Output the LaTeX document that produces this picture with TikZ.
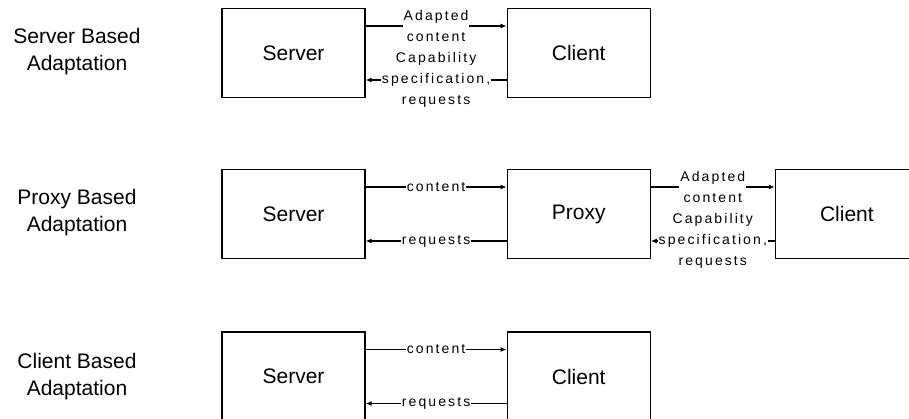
\documentclass[tikz,border=0pt]{standalone}
\usepackage{fontspec}
\setmainfont{Liberation Sans}
\usetikzlibrary{positioning, arrows.meta}

\begin{document}
\begin{tikzpicture}[x=1pt, y=-1pt, line width=1.2pt, >={Latex[length=6pt,width=5pt]},
                    box/.style={draw, minimum width=143pt, minimum height=89pt,
                                font=\fontsize{21}{24}\selectfont},
                    side/.style={align=center, font=\fontsize{21}{27}\selectfont},
                    msg/.style={fill=white, inner sep=1pt, align=center,
                                font=\fontsize{14}{21}\selectfont\addfontfeatures{LetterSpace=15}}]
\clip (0,0) rectangle (909,419);
% server based
\node[side] (tA) at (77,52) {Server Based\\Adaptation};
\node[box] (srvA) at (293.5,53) {Server};
\node[box, right=141pt of srvA] (cliA) {Client};
\draw[->] ([yshift=27pt]srvA.east) -- node[msg] {Adapted\\content} ([yshift=27pt]cliA.west);
\draw[->] ([yshift=-27pt]cliA.west) -- node[msg] {Capability\\specification,\\requests} ([yshift=-27pt]srvA.east);
% proxy based
\node[side] (tB) at (77,213) {Proxy Based\\Adaptation};
\node[box] (srvB) at (293.5,214) {Server};
\node[box, right=141pt of srvB] (prxB) {Proxy};
\node[box, right=124pt of prxB] (cliB) {Client};
\draw[->] ([yshift=27pt]srvB.east) -- node[msg] {content} ([yshift=27pt]prxB.west);
\draw[->] ([yshift=-27pt]prxB.west) -- node[msg] {requests} ([yshift=-27pt]srvB.east);
\draw[->] ([yshift=27pt]prxB.east) -- node[msg] {Adapted\\content} ([yshift=27pt]cliB.west);
\draw[->] ([yshift=-27pt]cliB.west) -- node[msg] {Capability\\specification,\\requests} ([yshift=-27pt]prxB.east);
% client based
\node[side] (tC) at (77,377) {Client Based\\Adaptation};
\node[box] (srvC) at (293.5,376.5) {Server};
\node[box, right=141pt of srvC] (cliC) {Client};
\draw[->] ([yshift=27pt]srvC.east) -- node[msg] {content} ([yshift=27pt]cliC.west);
\draw[->] ([yshift=-27pt]cliC.west) -- node[msg] {requests} ([yshift=-27pt]srvC.east);
\end{tikzpicture}
\end{document}
